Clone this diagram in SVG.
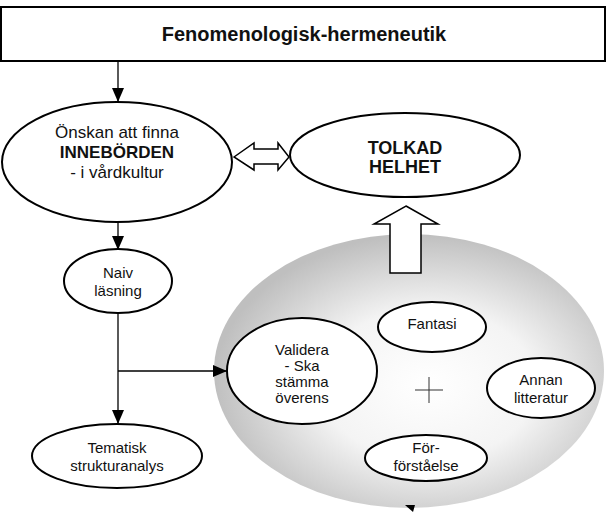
<svg xmlns="http://www.w3.org/2000/svg" width="607" height="519" viewBox="0 0 607 519">
<defs>
<radialGradient id="g" cx="0.55" cy="0.55" r="0.55">
<stop offset="0" stop-color="#ffffff"/>
<stop offset="0.5" stop-color="#f4f4f4"/>
<stop offset="1" stop-color="#bfbfbf"/>
</radialGradient>
<marker id="ah2" viewBox="0 0 14 12" refX="14" refY="6" markerWidth="14" markerHeight="12" markerUnits="userSpaceOnUse" orient="auto">
<path d="M0,0 L14,6 L0,12 z" fill="#000"/>
</marker>
</defs>
<style>
.n{fill:#fff;stroke:#000;stroke-width:2}
.t{font-family:"Liberation Sans",Arial,sans-serif;fill:#111;text-anchor:middle}
.s{font-size:15px}
.m{font-size:17px}
.b{font-weight:bold}
.c{stroke:#000;stroke-width:1.3;fill:none}
.h{fill:#fff;stroke:#000;stroke-width:1.5}
</style>
<rect width="607" height="519" fill="#fff"/>
<g id="bigcircle">
<ellipse cx="409" cy="371" rx="195" ry="137" fill="url(#g)"/>
<path d="M405,505 L415,505 L413,512 z" fill="#000"/>
</g>
<g id="connectors">
<line class="c" x1="118" y1="61" x2="118" y2="102" marker-end="url(#ah2)"/>
<line class="c" x1="118" y1="222" x2="118" y2="250" marker-end="url(#ah2)"/>
<line class="c" x1="118" y1="313" x2="118" y2="424" marker-end="url(#ah2)"/>
<line class="c" x1="118" y1="371" x2="227" y2="371" marker-end="url(#ah2)"/>
<path class="h" d="M234,157 L254,143 L254,149 L278,149 L278,143 L289,157 L278,170 L278,164 L254,164 L254,170 z"/>
<path class="h" d="M406,206 L438,224 L421,224 L421,273 L390,273 L390,224 L374,224 z"/>
<path d="M415,390 L443,390 M429,377 L429,403" stroke="#333" stroke-width="1" fill="none"/>
</g>
<g id="top">
<rect x="1" y="7" width="604" height="54" fill="#fff" stroke="#000" stroke-width="2"/>
<text class="t b" x="304" y="41" font-size="20">Fenomenologisk-hermeneutik</text>
</g>
<g id="onskan">
<ellipse class="n" cx="117" cy="162" rx="115" ry="60"/>
<text class="t m" x="117" y="138">Önskan att finna</text>
<text class="t m b" x="117" y="158">INNEBÖRDEN</text>
<text class="t m" x="117" y="178">- i vårdkultur</text>
</g>
<g id="tolkad">
<ellipse class="n" cx="405" cy="155" rx="115" ry="42"/>
<text class="t b" x="405" y="154" font-size="18">TOLKAD</text>
<text class="t b" x="405" y="173" font-size="18">HELHET</text>
</g>
<g id="naiv">
<ellipse class="n" cx="118" cy="281" rx="54" ry="32"/>
<text class="t s" x="118" y="278">Naiv</text>
<text class="t s" x="118" y="296">läsning</text>
</g>
<g id="tematisk">
<ellipse class="n" cx="117" cy="456" rx="85" ry="32"/>
<text class="t s" x="117" y="453">Tematisk</text>
<text class="t s" x="117" y="471">strukturanalys</text>
</g>
<g id="validera">
<ellipse class="n" cx="302" cy="371" rx="75" ry="53"/>
<text class="t s" x="302" y="355">Validera</text>
<text class="t s" x="302" y="371">- Ska</text>
<text class="t s" x="302" y="387">stämma</text>
<text class="t s" x="302" y="403">överens</text>
</g>
<g id="fantasi">
<ellipse class="n" cx="432" cy="327" rx="54" ry="25"/>
<text class="t s" x="432" y="329">Fantasi</text>
</g>
<g id="annan">
<ellipse class="n" cx="541" cy="388" rx="54" ry="30"/>
<text class="t s" x="541" y="385">Annan</text>
<text class="t s" x="541" y="403">litteratur</text>
</g>
<g id="forforstaelse">
<ellipse class="n" cx="426" cy="458" rx="61" ry="23"/>
<text class="t s" x="426" y="453">För-</text>
<text class="t s" x="426" y="471">förståelse</text>
</g>
</svg>
